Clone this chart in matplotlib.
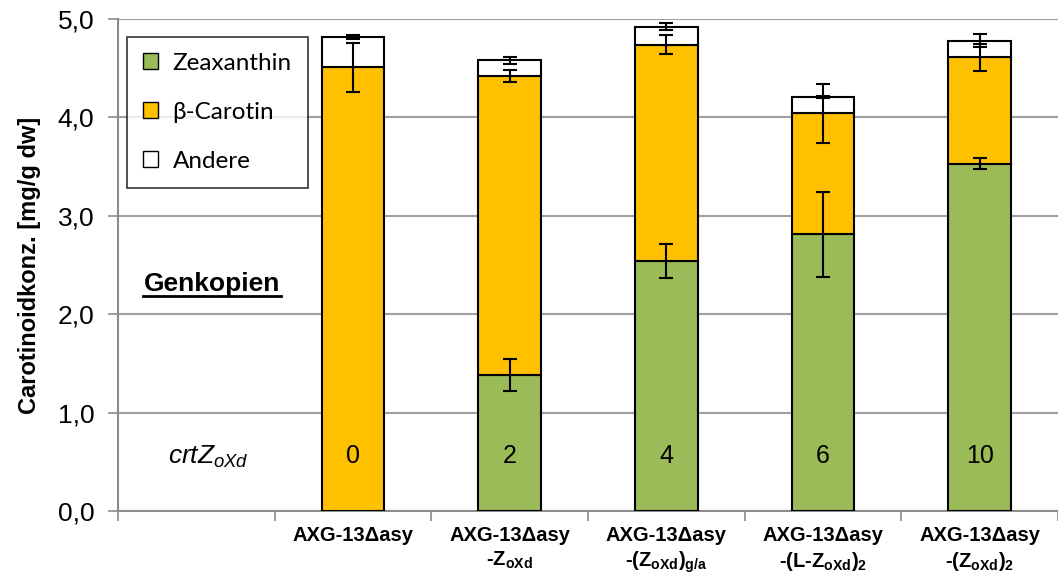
import numpy as np
import matplotlib.pyplot as plt
from matplotlib.patches import Patch
from matplotlib.ticker import FixedLocator, FuncFormatter

plt.rcParams['font.family'] = ['Liberation Sans', 'DejaVu Sans']
plt.rcParams['mathtext.fontset'] = 'custom'
plt.rcParams['mathtext.rm'] = 'Liberation Sans'
plt.rcParams['mathtext.it'] = 'Liberation Sans:italic'
plt.rcParams['mathtext.bf'] = 'Liberation Sans:bold'

# Stämme und Messwerte (mg/g Trockengewicht)
staemme = [
    "AXG-13Δasy",
    "AXG-13Δasy\n-Z$_{\\mathbf{oXd}}$",
    "AXG-13Δasy\n-(Z$_{\\mathbf{oXd}}$)$_{\\mathbf{g/a}}$",
    "AXG-13Δasy\n-(L-Z$_{\\mathbf{oXd}}$)$_{\\mathbf{2}}$",
    "AXG-13Δasy\n-(Z$_{\\mathbf{oXd}}$)$_{\\mathbf{2}}$",
]
genkopien = ["0", "2", "4", "6", "10"]

zeaxanthin = [0.0, 1.38, 2.54, 2.81, 3.53]
zeaxanthin_err = [0.0, 0.16, 0.17, 0.43, 0.055]
carotin = [4.51, 3.04, 2.20, 1.23, 1.08]
carotin_err = [0.25, 0.065, 0.10, 0.30, 0.14]
andere = [0.31, 0.16, 0.18, 0.17, 0.17]
andere_err = [0.02, 0.035, 0.035, 0.01, 0.065]

gruen = "#9BBB59"
orange = "#FFC000"
grau = "#8C8C8C"

fig = plt.figure(figsize=(10.58, 5.74), dpi=100)
ax = fig.add_axes([0.1115, 0.1098, 0.8885, 0.8572])

x = np.arange(1, len(staemme) + 1)
zea = np.array(zeaxanthin)
car = np.array(carotin)
and_ = np.array(andere)
breite = 0.40
kante = dict(edgecolor="black", linewidth=1.5, zorder=3)

ax.bar(x, zea, breite, color=gruen, **kante)
ax.bar(x, car, breite, bottom=zea, color=orange, **kante)
ax.bar(x, and_, breite, bottom=zea + car, color="white", **kante)

fehler = dict(fmt="none", ecolor="black", elinewidth=1.5, capsize=5,
              capthick=1.5, zorder=4)
m = zea > 0
ax.errorbar(x[m], zea[m], yerr=np.array(zeaxanthin_err)[m], **fehler)
ax.errorbar(x, zea + car, yerr=carotin_err, **fehler)
ax.errorbar(x, zea + car + and_, yerr=andere_err, **fehler)

# Kopienzahl in den Balken
for xi, n in zip(x, genkopien):
    ax.text(xi, 0.56, n, ha="center", va="center", fontsize=18, zorder=5)
ax.text(0.075, 0.55, "$\\mathit{crtZ}_{\\mathit{oXd}}$", ha="center",
        va="center", fontsize=19)
ax.text(0.103, 2.31, "Genkopien", ha="center", va="center", fontsize=19,
        fontweight="bold")
ax.plot([-0.34, 0.54], [2.185, 2.185], color="black", lw=2)

ax.set_xlim(-0.5, 5.5)
ax.set_ylim(0, 5)
ax.set_yticks(np.arange(0, 5.01, 1.0))
ax.yaxis.set_major_formatter(FuncFormatter(lambda v, p: f"{v:.1f}".replace(".", ",")))
ax.tick_params(axis="y", labelsize=19, length=7, pad=10, color=grau, width=1.2)
ax.grid(axis="y", color="#A0A0A0", linewidth=1.5, zorder=0)
ax.set_axisbelow(True)

ax.set_xticks(x)
ax.set_xticklabels(staemme, fontsize=14.5, fontweight="bold", linespacing=1.25)
ax.xaxis.set_minor_locator(FixedLocator(np.arange(-0.5, 5.6, 1.0)))
ax.tick_params(axis="x", which="major", length=0, pad=11)
ax.tick_params(axis="x", which="minor", length=7, color=grau, width=1.2)

for s in ["top", "right"]:
    ax.spines[s].set_visible(False)
for s in ["left", "bottom"]:
    ax.spines[s].set_color(grau)
    ax.spines[s].set_linewidth(1.5)

ax.set_ylabel("Carotinoidkonz. [mg/g dw]", fontsize=17, fontweight="bold",
              labelpad=12)

griffe = [Patch(facecolor=gruen, edgecolor="black", label="Zeaxanthin"),
          Patch(facecolor=orange, edgecolor="black", label="β-Carotin"),
          Patch(facecolor="white", edgecolor="black", label="Andere")]
leg = ax.legend(handles=griffe, loc="upper left", bbox_to_anchor=(0.0096, 0.963),
                prop={"family": ["Lato", "DejaVu Sans"], "size": 17.5},
                frameon=True, fancybox=False, handlelength=0.63,
                handleheight=0.63, labelspacing=1.15, borderpad=0.65,
                handletextpad=0.6, borderaxespad=0)
leg.get_frame().set_edgecolor("black")
leg.get_frame().set_linewidth(1.2)

fig.savefig("out.png", dpi=100)
